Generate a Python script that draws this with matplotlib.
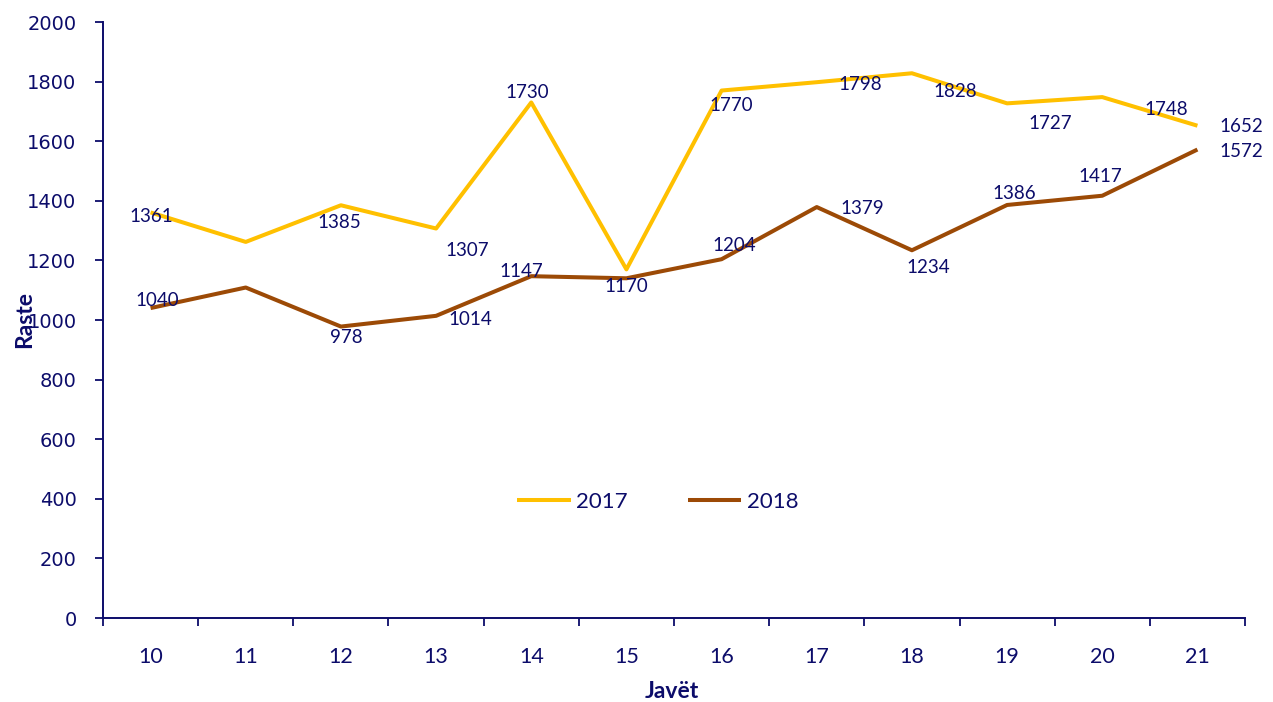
import matplotlib
matplotlib.use("Agg")
import matplotlib.pyplot as plt

weeks = ["10", "11", "12", "13", "14", "15", "16", "17", "18", "19", "20", "21"]
y2017 = [1361, 1262, 1385, 1307, 1730, 1170, 1770, 1798, 1828, 1727, 1748, 1652]
y2018 = [1040, 1109, 978, 1014, 1147, 1140, 1204, 1379, 1234, 1386, 1417, 1572]
labels2017 = ["1361", None, "1385", "1307", "1730", "1170", "1770", "1798", "1828", "1727", "1748", "1652"]
labels2018 = ["1040", None, "978", "1014", "1147", None, "1204", "1379", "1234", "1386", "1417", "1572"]
yticks = [0, 200, 400, 600, 800, 1000, 1200, 1400, 1600, 1800, 2000]

# label offsets in pixels (dx right, dy down)
off2017 = [(1, 4), None, (-2, 17), (31, 22), (-4, -10), (0, 17), (10, 15), (43, 2), (43, 18), (43, 20), (64, 12), (44, 1)]
off2018 = [(7, -8), None, (5, 11), (34, 4), (-10, -5), None, (13, -14), (45, 1), (16, 17), (7, -11), (-2, -19), (44, 2)]

NAVY = "#0c0c6a"
C17 = "#FFC000"
C18 = "#9C4A06"

fig = plt.figure(figsize=(12.73, 7.02), dpi=100)
ax = fig.add_axes([103 / 1273, 84 / 702, 1142 / 1273, 596 / 702])

x = list(range(len(weeks)))
ax.plot(x, y2017, color=C17, lw=2.9, label="2017", solid_capstyle="butt")
ax.plot(x, y2018, color=C18, lw=2.9, label="2018", solid_capstyle="butt")

for xs, ys, labs, offs in [(x, y2017, labels2017, off2017), (x, y2018, labels2018, off2018)]:
    for xi, yi, lab, off in zip(xs, ys, labs, offs):
        if lab is None:
            continue
        ax.annotate(lab, (xi, yi), xytext=(off[0], -off[1]), textcoords="offset pixels",
                    ha="center", va="center", fontsize=13.5, color=NAVY, family="Lato")

ax.set_xlim(-0.5, len(weeks) - 0.5)
ax.set_ylim(0, 2000)
ax.set_yticks(yticks)
ax.set_yticklabels([str(v) for v in yticks], fontsize=14, color=NAVY, family="DejaVu Sans")
ax.set_xticks(x)
ax.set_xticklabels(weeks, fontsize=15.5, color=NAVY, family="Lato")
ax.set_xticks([i - 0.5 for i in range(len(weeks) + 1)], minor=True)
ax.tick_params(axis="x", which="major", length=0, pad=21)
ax.tick_params(axis="x", which="minor", length=6, width=1.3, color=NAVY, direction="out")
ax.tick_params(axis="y", length=6, width=1.3, color=NAVY, direction="out", pad=13)

for s in ["top", "right"]:
    ax.spines[s].set_visible(False)
for s in ["left", "bottom"]:
    ax.spines[s].set_color(NAVY)
    ax.spines[s].set_linewidth(1.4)

fig.text(25 / 1273, 1 - 320 / 702, "Raste", rotation=90, ha="center", va="center",
         fontsize=16.5, fontweight="bold", color=NAVY, family="Lato")
fig.text(672 / 1273, 1 - 692 / 702, "Javët", ha="center", va="center",
         fontsize=16.5, fontweight="bold", color=NAVY, family="Lato")

leg = ax.legend(loc="center", bbox_to_anchor=(0.486, 0.195), ncol=2, frameon=False,
                prop={"family": "Lato", "size": 16}, handlelength=2.4, handletextpad=0.25,
                columnspacing=2.7)
for t in leg.get_texts():
    t.set_color(NAVY)

fig.savefig("out.png", dpi=100)
